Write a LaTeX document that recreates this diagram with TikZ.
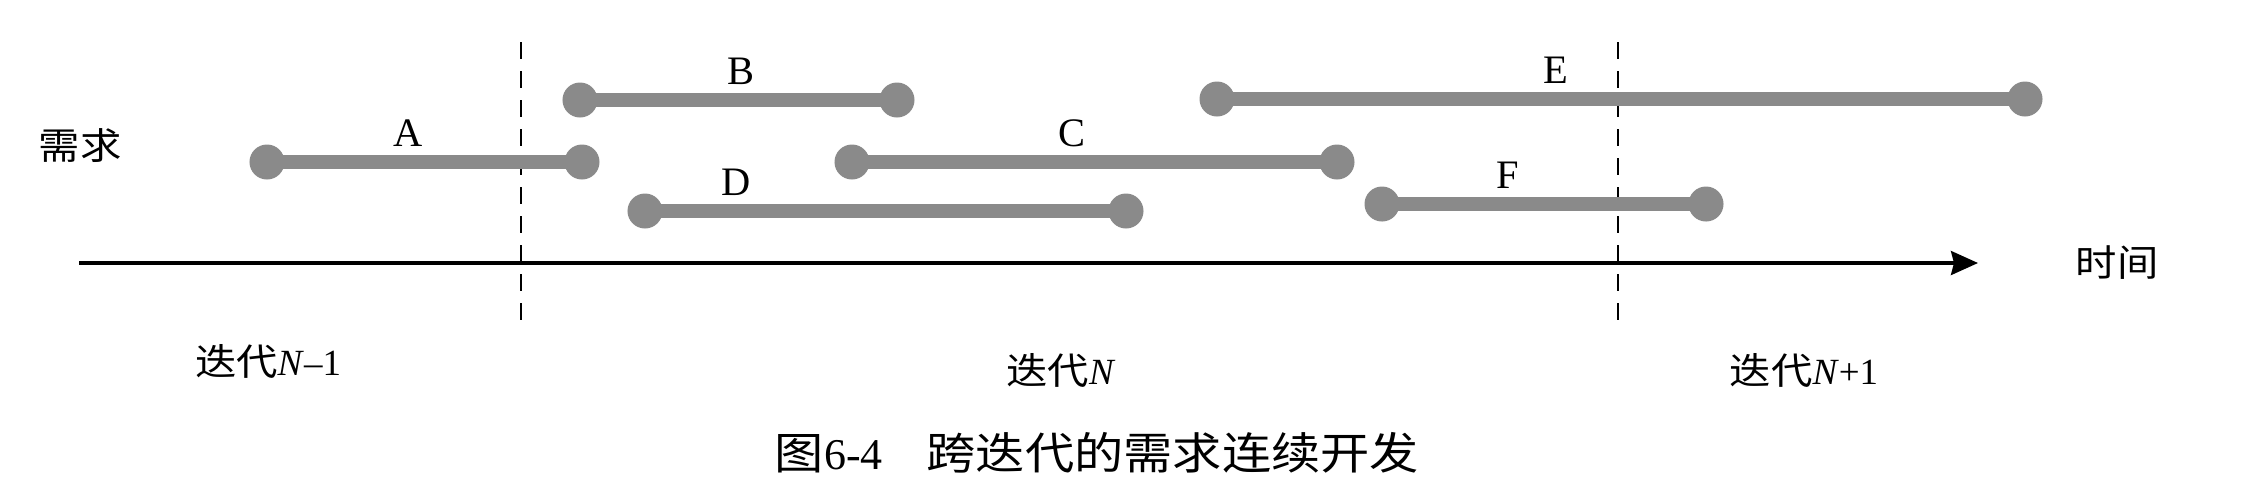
\documentclass[tikz,border=0pt]{standalone}
\usepackage{fontspec}
\setmainfont{Liberation Serif}
\newfontfamily\cjk[FakeStretch=1.12]{Noto Sans CJK SC}
\usetikzlibrary{arrows.meta}
\definecolor{bargray}{RGB}{138,138,138}
\tikzstyle{enddot} = [circle, fill=bargray, minimum size=0.35cm, inner sep=0pt]
\tikzstyle{reqbar} = [bargray, line width=0.14cm, shorten <=-2pt, shorten >=-2pt]
\tikzstyle{reqname} = [anchor=base, yshift=0.16cm, inner sep=0pt, text=black, font=\fontsize{11.5}{12}\selectfont]
\tikzstyle{iterline} = [line width=0.8pt, dash pattern=on 0.17cm off 0.12cm]
\tikzstyle{arrow} = [line width=0.9pt, -{Stealth[length=0.27cm, width=0.24cm, inset=0.03cm]}]
\tikzstyle{txt} = [inner sep=0pt, font=\fontsize{10.5}{12}\selectfont]
\begin{document}
\begin{tikzpicture}[x=0.01cm, y=-0.01cm]
    \useasboundingbox (0,0) rectangle (2248,499);

    %Iteration borders
    \coordinate (it1top) at (521,42);
    \coordinate (it1bot) at (521,324);
    \coordinate (it2top) at (1618,42);
    \coordinate (it2bot) at (1618,324);
    \draw [iterline] (it1top) -- (it1bot);
    \draw [iterline] (it2top) -- (it2bot);

    %Time axis
    \coordinate (t0) at (79,263);
    \coordinate (t1) at (1978,263);
    \node (time) [txt] at (2117,263) {\cjk 时间};
    \draw [arrow] (t0) -- (t1);

    %End points
    \node (A1) [enddot] at (267,162) {};
    \node (A2) [enddot] at (582,162) {};
    \node (B1) [enddot] at (580,100) {};
    \node (B2) [enddot] at (897,100) {};
    \node (C1) [enddot] at (852,162) {};
    \node (C2) [enddot] at (1337,162) {};
    \node (D1) [enddot] at (645,211) {};
    \node (D2) [enddot] at (1126,211) {};
    \node (E1) [enddot] at (1217,99) {};
    \node (E2) [enddot] at (2025,99) {};
    \node (F1) [enddot] at (1382,204) {};
    \node (F2) [enddot] at (1706,204) {};

    %Requirements
    \draw [reqbar] (A1) -- node[reqname, pos=0.44] {A} (A2);
    \draw [reqbar] (B1) -- node[reqname, pos=0.51] {B} (B2);
    \draw [reqbar] (C1) -- node[reqname, pos=0.45] {C} (C2);
    \draw [reqbar] (D1) -- node[reqname, pos=0.165] {D} (D2);
    \draw [reqbar] (E1) -- node[reqname, pos=0.415] {E} (E2);
    \draw [reqbar] (F1) -- node[reqname, pos=0.375] {F} (F2);

    %Labels
    \node (req) [txt] at (80,146) {\cjk 需求};
    \node (iterPrev) [txt] at (268,361) {{\cjk 迭代}\textit{N}--1};
    \node (iterCur) [txt] at (1061,370) {{\cjk 迭代}\textit{N}};
    \node (iterNext) [txt] at (1804,370) {{\cjk 迭代}\textit{N}+1};
    \node (caption) [inner sep=0pt, font=\fontsize{12.5}{14}\selectfont] at (1097,453) {{\cjk 图}6-4\quad{\cjk 跨迭代的需求连续开发}};
\end{tikzpicture}
\end{document}
